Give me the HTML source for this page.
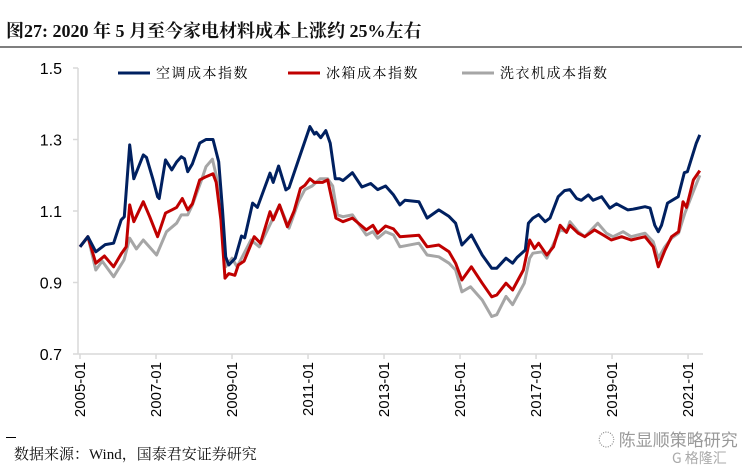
<!DOCTYPE html>
<html><head><meta charset="utf-8"><style>
body{margin:0;background:#fff;width:742px;height:473px;overflow:hidden;position:relative;font-family:"Liberation Serif","Noto Serif CJK SC",serif}
#title{position:absolute;left:6px;top:17px;font-size:18px;font-weight:bold;color:#111;white-space:nowrap}
#rule{position:absolute;left:0;top:46px;width:742px;height:2px;background:#7f7f7f}
#src{position:absolute;left:14px;top:443px;font-size:15px;color:#111}
#dash{position:absolute;left:6px;top:437px;width:10px;height:1px;background:#000}
#wm{position:absolute;left:598px;top:426px;font-size:17px;color:#999;font-family:"Noto Sans CJK SC",sans-serif}
#wm2{position:absolute;left:672px;top:448px;font-size:14px;color:#aaa;font-family:"Noto Sans CJK SC",sans-serif}
svg{position:absolute;left:0;top:0}
</style></head><body>
<div id="title">图27: 2020 年 5 月至今家电材料成本上涨约 25%左右</div>
<div id="rule"></div>
<svg id="chart" width="742" height="473"></svg>
<div id="dash"></div>
<div id="src">数据来源：Wind，国泰君安证券研究</div>
<div id="wm">◌ 陈显顺策略研究</div>
<div id="wm2">G 格隆汇</div>
<script>
const yTicks=[0.7,0.9,1.1,1.3,1.5];
const xTickLabels=["2005-01","2007-01","2009-01","2011-01","2013-01","2015-01","2017-01","2019-01","2021-01"];
const seriesNames=["空调成本指数","冰箱成本指数","洗衣机成本指数"];
const blueMonths=[0,2.5,5,8,10.6,13,14,15.7,17,20,21,23,24.5,25,27,29,30.5,32,33,34,35.5,37.8,39.8,42,43.8,45,46,47,49,51,52,54.5,56,60,61,62.7,65,66,69,72.6,74,74.6,76,77.6,79,80.6,82,83,86,89,91.8,94,96.5,99,101,102.6,107,109.6,113.3,116.5,118.6,120.6,123.6,127,130,131.6,134.5,136.6,138,140.6,141.6,143,144.8,146.9,148.4,151,153,154.7,156.8,158.3,160.5,162,164.7,167.3,169.4,173,174.6,178.4,180,181.5,182.6,183.6,185.5,188.9,190.8,191.8,194.6,195.7];
const blueVals=[1.0,1.028,0.986,1.006,1.01,1.075,1.084,1.285,1.19,1.257,1.25,1.19,1.14,1.135,1.243,1.215,1.237,1.252,1.246,1.21,1.232,1.29,1.3,1.3,1.238,1.103,0.972,0.949,0.968,1.03,1.025,1.122,1.11,1.206,1.18,1.226,1.159,1.165,1.243,1.336,1.315,1.32,1.305,1.325,1.29,1.19,1.19,1.185,1.207,1.167,1.177,1.16,1.17,1.145,1.117,1.13,1.126,1.08,1.103,1.085,1.066,1.005,1.033,0.977,0.94,0.94,0.968,0.954,0.97,0.991,1.066,1.08,1.09,1.07,1.08,1.14,1.157,1.16,1.135,1.13,1.145,1.13,1.14,1.108,1.12,1.103,1.105,1.112,1.108,1.06,1.042,1.06,1.122,1.14,1.207,1.21,1.29,1.313];
const redMonths=[0,2.5,5,7.7,10.6,13,14.6,15.7,17,20,22,24.5,27,29,30.5,32.3,34,35.5,37.8,39.8,42,43,44.5,45.8,47,48.9,50,51.8,55,57,60,61,63,65.5,67.6,69.6,71,72.6,74,76.6,78.2,80.8,83,86,90.4,92.5,94,96.5,99,101,107,109.6,113.3,116.5,118.6,120.6,123.6,127,130,131.6,134.5,136.6,140,142,143.5,144.8,147.4,149.5,151.6,153.6,154.7,157.3,159.4,162.5,165.2,167.8,171,174,178.4,181,182.6,184.7,186.8,189,190.4,191.5,193.7,195.7];
const redVals=[1.0,1.028,0.954,0.974,0.944,0.98,1.0,1.117,1.07,1.126,1.084,1.028,1.094,1.103,1.11,1.135,1.103,1.12,1.187,1.196,1.204,1.18,1.075,0.912,0.925,0.92,0.949,0.96,1.028,1.01,1.098,1.075,1.117,1.056,1.1,1.163,1.172,1.19,1.18,1.18,1.187,1.08,1.07,1.08,1.047,1.06,1.038,1.058,1.05,1.028,1.032,1.0,1.005,0.986,0.954,0.907,0.944,0.898,0.86,0.865,0.898,0.879,0.935,1.019,0.995,1.01,0.977,1.0,1.06,1.04,1.06,1.038,1.028,1.047,1.033,1.019,1.028,1.019,1.028,1.0,0.944,0.99,1.028,1.042,1.126,1.11,1.187,1.213];
const grayMonths=[0,2.5,5,7,10.6,13.9,15.7,17.8,20,24.2,27.3,30.5,32,34,35.5,38.4,39.8,41.8,43,44.5,46,48,49.6,54,56.6,63,66,69,71,73.3,75.8,78.2,79.8,81.3,83,86,90.4,92.5,94,96.5,99,101,107,109.6,113.3,116.5,118.6,120.6,123.3,127,130,131.6,134.5,136.6,140.3,142,143,146,147.4,151.6,153.6,154.7,157.3,159.4,163.5,166.2,168.3,171.5,174,178.4,181,182.6,184.7,186.8,189,191,193.7,195.7];
const grayVals=[1.0,1.028,0.935,0.96,0.916,0.963,1.024,0.994,1.019,0.977,1.042,1.066,1.089,1.089,1.117,1.187,1.224,1.245,1.2,1.103,0.944,0.968,0.944,1.019,1.0,1.117,1.052,1.126,1.16,1.17,1.19,1.19,1.17,1.089,1.084,1.089,1.033,1.042,1.024,1.042,1.033,1.0,1.01,0.977,0.972,0.954,0.935,0.874,0.888,0.851,0.805,0.81,0.861,0.838,0.898,0.968,0.982,0.986,0.968,1.047,1.042,1.07,1.042,1.028,1.066,1.038,1.028,1.042,1.028,1.038,1.014,0.968,1.0,1.024,1.038,1.094,1.155,1.2];
const NS="http://www.w3.org/2000/svg";
const svg=document.getElementById('chart');
const X0=80,XS=3.167,Y0=354,YT=68,VMIN=0.7,VMAX=1.5;
function xm(m){return X0+m*XS;}
function yv(v){return Y0-(v-VMIN)/(VMAX-VMIN)*(Y0-YT);}
function mk(tag,attrs){const e=document.createElementNS(NS,tag);for(const k in attrs)e.setAttribute(k,attrs[k]);svg.appendChild(e);return e;}
// axes
let ax=mk('line',{x1:78,y1:YT,x2:78,y2:Y0,stroke:'#d9d9d9','stroke-width':1.5});


let bx=mk('line',{x1:78,y1:Y0,x2:703,y2:Y0,stroke:'#d9d9d9','stroke-width':1.5});


yTicks.forEach(v=>{
  const tk=mk('line',{x1:73,y1:yv(v),x2:78,y2:yv(v),stroke:'#d9d9d9','stroke-width':1.5});
  
  
  const t=mk('text',{x:62,y:yv(v)+6,'text-anchor':'end','font-size':16,'font-family':'Liberation Sans, sans-serif',fill:'#000'});
  t.textContent=v.toFixed(1);
  
  
});
xTickLabels.forEach((lab,i)=>{
  const x=xm(i*24);
  const tk=mk('line',{x1:x,y1:Y0,x2:x,y2:Y0+5,stroke:'#d9d9d9','stroke-width':1.5});
  
  
  const t=mk('text',{x:0,y:0,'text-anchor':'end','font-size':15,'font-family':'Liberation Sans, sans-serif',fill:'#000',transform:`translate(${x+5},${Y0+8}) rotate(-90)`});
  t.textContent=lab;
  
  
});
const series=[[grayMonths,grayVals,'#a6a6a6','washer-line'],[redMonths,redVals,'#c00000','fridge-line'],[blueMonths,blueVals,'#002060','aircon-line']];
series.forEach(s=>{
  const d=s[0].map((m,i)=>(i?'L':'M')+xm(m).toFixed(1)+' '+yv(s[1][i]).toFixed(1)).join(' ');
  const p=mk('path',{d:d,fill:'none',stroke:s[2],'stroke-width':3,'stroke-linejoin':'round'});
  
  
});
const legX=[[118,'#002060'],[288,'#c00000'],[462,'#a6a6a6']];
seriesNames.forEach((n,i)=>{
  const l=mk('line',{x1:legX[i][0],y1:73,x2:legX[i][0]+32,y2:73,stroke:legX[i][1],'stroke-width':3});
  
  
  const t=mk('text',{x:legX[i][0]+38,y:78,'font-size':14,'font-family':'Noto Serif CJK SC, serif',fill:'#000','letter-spacing':'1.5'});
  t.textContent=n;
  
  
});
</script>
</body></html>
